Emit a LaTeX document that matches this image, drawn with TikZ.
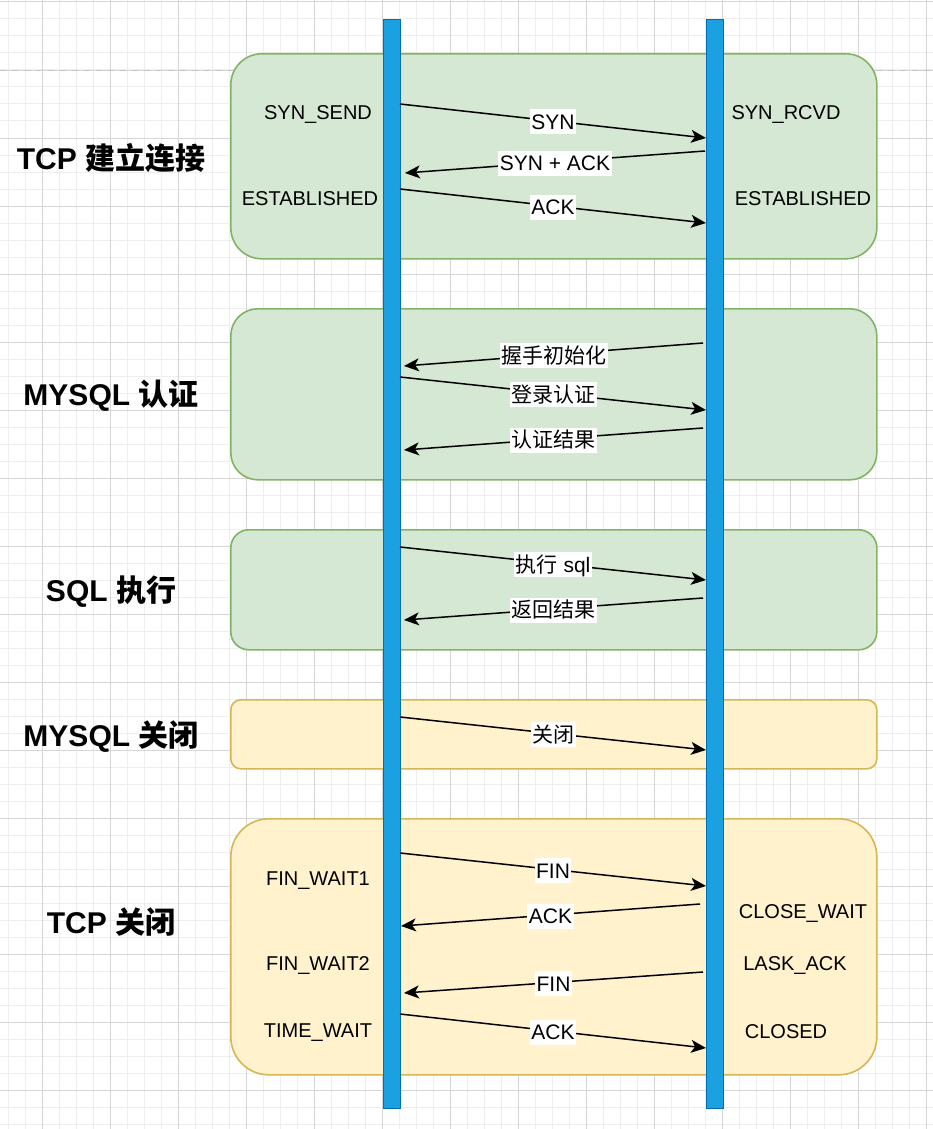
\documentclass[tikz,border=0pt]{standalone}
\usepackage{fontspec}
\setmainfont{Liberation Sans}
\newfontfamily\cjk{Noto Sans CJK SC}
\usetikzlibrary{arrows.meta}
\definecolor{gfill}{HTML}{D5E8D4}
\definecolor{gline}{HTML}{82B366}
\definecolor{yfill}{HTML}{FFF2CC}
\definecolor{yline}{HTML}{D6B656}
\definecolor{bfill}{HTML}{1BA1E2}
\definecolor{bline}{HTML}{006EAF}
\definecolor{gridminor}{HTML}{EEEEEE}
\definecolor{gridmajor}{HTML}{D6D6D6}
\definecolor{pagedash}{HTML}{C4C4C4}
\begin{document}
\begin{tikzpicture}[x=1pt,y=-1pt,
  minorgrid/.style={draw=gridminor,line width=1pt},
  majorgrid/.style={draw=gridmajor,line width=1pt},
  gbox/.style={draw=gline,fill=gfill,line width=1.6pt,anchor=north west,minimum width=646pt,inner sep=0pt},
  ybox/.style={draw=yline,fill=yfill,line width=1.6pt,anchor=north west,minimum width=646pt,inner sep=0pt},
  life/.style={draw=bline,fill=bfill,line width=1.4pt,anchor=north west,minimum width=17pt,minimum height=1089pt,inner sep=0pt},
  title/.style={font=\fontsize{30}{34}\selectfont\bfseries,inner sep=0pt,text height=22pt,text depth=0pt},
  state/.style={font=\fontsize{20}{24}\selectfont,inner sep=0pt,text height=14.5pt,text depth=0pt},
  lbl/.style={font=\fontsize{21}{24}\selectfont,fill=white,inner ysep=0pt,inner xsep=1.5pt,text height=20pt,text depth=5pt,yshift=-1pt,midway},
  msg/.style={line width=1.5pt,-{Stealth[length=15pt,width=13pt,inset=4pt]}}
]
\useasboundingbox (0,0) rectangle (933,1129);
\fill[white] (0,0) rectangle (933,1129);
% grid
\foreach \i in {0,...,55} \draw[minorgrid] ({8+17*\i},0) -- ({8+17*\i},1129);
\foreach \i in {0,...,66} \draw[minorgrid] (0,{2+17*\i}) -- (933,{2+17*\i});
\foreach \i in {0,...,13} \draw[majorgrid] ({42+68*\i},0) -- ({42+68*\i},1129);
\foreach \i in {0,...,16} \draw[majorgrid] (0,{2+68.06*\i}) -- (933,{2+68.06*\i});
\draw[pagedash,line width=1.2pt,dash pattern=on 6pt off 6pt] (0,70.5) -- (933,70.5);

% phase boxes
\node (b1) [gbox,minimum height=205pt,rounded corners=31pt] at (230,53) {};
\node (b2) [gbox,minimum height=171pt,rounded corners=27pt] at (230,308) {};
\node (b3) [gbox,minimum height=120pt,rounded corners=18pt] at (230,529) {};
\node (b4) [ybox,minimum height=69pt,rounded corners=10pt] at (230,699) {};
\node (b5) [ybox,minimum height=256pt,rounded corners=38pt] at (230,818) {};

% titles
\node (t1) [title] at (111,158) {TCP {\cjk 建立连接}};
\node (t2) [title] at (111,394) {MYSQL {\cjk 认证}};
\node (t3) [title] at (111,590) {SQL {\cjk 执行}};
\node (t4) [title] at (111,735) {MYSQL {\cjk 关闭}};
\node (t5) [title] at (111,922) {TCP {\cjk 关闭}};

% lifelines
\node (cl) [life] at (383,19) {};
\node (sv) [life] at (706,19) {};

% states
\node (s1) [state] at (318,112) {SYN\_SEND};
\node (s2) [state] at (310,198) {ESTABLISHED};
\node (s3) [state] at (786,112) {SYN\_RCVD};
\node (s4) [state] at (803,198) {ESTABLISHED};
\node (s5) [state] at (318,878) {FIN\_WAIT1};
\node (s6) [state] at (318,963) {FIN\_WAIT2};
\node (s7) [state] at (318,1030) {TIME\_WAIT};
\node (s8) [state] at (803,911) {CLOSE\_WAIT};
\node (s9) [state] at (795,963) {LASK\_ACK};
\node (s10) [state] at (786,1031) {CLOSED};

% message end points
\coordinate (m1a) at (400,104);  \coordinate (m1b) at (706,138);
\coordinate (m2a) at (705,151);  \coordinate (m2b) at (405,173);
\coordinate (m3a) at (400,189);  \coordinate (m3b) at (706,223);
\coordinate (m4a) at (703,343);  \coordinate (m4b) at (404,366);
\coordinate (m5a) at (400,377);  \coordinate (m5b) at (706,410);
\coordinate (m6a) at (703,428);  \coordinate (m6b) at (404,450);
\coordinate (m7a) at (400,547);  \coordinate (m7b) at (706,580);
\coordinate (m8a) at (703,598);  \coordinate (m8b) at (404,620);
\coordinate (m9a) at (400,717);  \coordinate (m9b) at (706,750);
\coordinate (m10a) at (400,853); \coordinate (m10b) at (706,886);
\coordinate (m11a) at (700,904); \coordinate (m11b) at (401,926);
\coordinate (m12a) at (703,972); \coordinate (m12b) at (404,993);
\coordinate (m13a) at (400,1014);\coordinate (m13b) at (706,1048);

% messages
\draw[msg] (m1a) -- node[lbl] {SYN} (m1b);
\draw[msg] (m2a) -- node[lbl] {SYN + ACK} (m2b);
\draw[msg] (m3a) -- node[lbl] {ACK} (m3b);
\draw[msg] (m4a) -- node[lbl] {\cjk 握手初始化} (m4b);
\draw[msg] (m5a) -- node[lbl] {\cjk 登录认证} (m5b);
\draw[msg] (m6a) -- node[lbl] {\cjk 认证结果} (m6b);
\draw[msg] (m7a) -- node[lbl] {{\cjk 执行} sql} (m7b);
\draw[msg] (m8a) -- node[lbl] {\cjk 返回结果} (m8b);
\draw[msg] (m9a) -- node[lbl] {\cjk 关闭} (m9b);
\draw[msg] (m10a) -- node[lbl] {FIN} (m10b);
\draw[msg] (m11a) -- node[lbl] {ACK} (m11b);
\draw[msg] (m12a) -- node[lbl] {FIN} (m12b);
\draw[msg] (m13a) -- node[lbl] {ACK} (m13b);
\end{tikzpicture}
\end{document}
